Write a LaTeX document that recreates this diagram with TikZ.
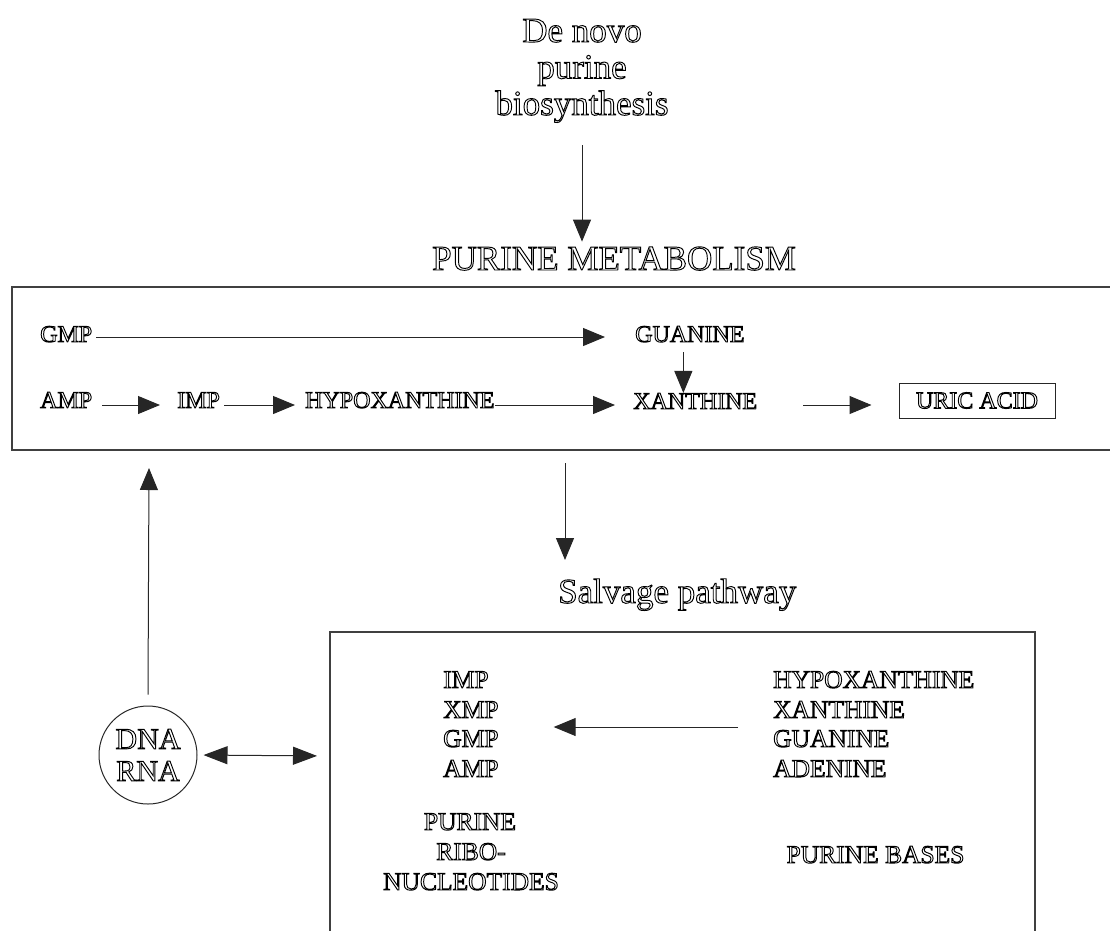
\documentclass[tikz,border=0pt]{standalone}
\usepackage{fontspec}
\setmainfont{Liberation Serif}
\usetikzlibrary{arrows.meta,calc}
\newcommand\hollowtext{\special{pdf:literal direct 1 Tr 0.95 w}}
\begin{document}
\begin{tikzpicture}[x=1pt,y=-1pt,
  lbl/.style={inner sep=0pt, font=\hollowtext\fontsize{24}{28}\selectfont},
  big/.style={inner sep=0pt, font=\hollowtext\fontsize{35}{36.5}\selectfont},
  mid/.style={inner sep=0pt, font=\hollowtext\fontsize{25.5}{30}\selectfont},
  conn/.style={line width=1pt, draw=black!85},
  arr/.style={conn, -{Triangle[length=22pt,width=18pt]}},
  darr/.style={conn, {Triangle[length=24pt,width=18pt]}-{Triangle[length=24pt,width=18pt]}},
  frame/.style={line width=1.3pt, draw=black!75}]
\useasboundingbox (0,0) rectangle (1110,930);

% De novo
\node[big, anchor=base] (denovo1) at (582,42) {De novo};
\node[big, anchor=base] (denovo2) at (582,78.5) {purine};
\node[big, anchor=base] (denovo3) at (582,115) {biosynthesis};
\node[big, anchor=base west] (title) at (432,270) {PURINE METABOLISM};
\draw[arr, shorten >=5pt] ($(denovo3.base)+(0,30)$) -- (denovo3.base |- title.north);

% top box
\draw[frame] (1112,287) -- (12,287) -- (12,450) -- (1112,450);
\coordinate (topS) at (565,450);
\coordinate (topW) at (149,450);

\node[lbl, anchor=base west] (gmp) at (40,342) {GMP};
\node[lbl, anchor=base west] (guanine) at (635,342) {GUANINE};
\node[lbl, anchor=base west] (amp) at (40,408) {AMP};
\node[lbl, anchor=base west] (imp) at (177,408) {IMP};
\node[lbl, anchor=base west] (hypo) at (305,408) {HYPOXANTHINE};
\node[lbl, anchor=base west] (xan) at (633,409) {XANTHINE};
\node[lbl, conn, draw, minimum width=156pt, minimum height=35pt] (uric) at (977,400.5) {URIC ACID};

\draw[arr] ($(gmp.base east)+(4,-5)$) -- ($(guanine.base west)+(-30,-5)$);
\draw[arr] ($(amp.base east)+(10,-3)$) -- ($(imp.base west)+(-17,-3)$);
\draw[arr] ($(imp.base east)+(4,-3)$) -- ($(hypo.base west)+(-10,-3)$);
\draw[arr] ($(hypo.base east)+(0,-3)$) -- ($(xan.base west)+(-18,-4)$);
\draw[arr] ($(xan.base east)+(46,-4)$) -- ($(uric.west)+(-27,4.5)$);
\coordinate (gtop) at ($(guanine.base)+(-6.5,10)$);
\draw[arr] (gtop) -- (gtop |- xan.north);

% salvage
\node[big, anchor=base west] (salv) at (558,603) {Salvage pathway};
\draw[arr] ($(topS)+(0,13)$) -- ($(topS)+(0,110)$);

\draw[frame] (330,932) -- (330,632) -- (1035,632) -- (1035,932);
\coordinate (lowW) at (330,756);

\node[conn, draw, circle, minimum size=98pt, inner sep=0pt, align=center,
      font=\hollowtext\fontsize{30}{32}\selectfont] (dna) at (148,755) {DNA\\RNA};
\draw[arr] ($(dna.north)+(0,-11)$) -- ($(topW)+(0,18)$);
\draw[darr, shorten >=13pt, shorten <=6pt] (dna.east) -- (lowW);

\node[mid, anchor=base west] (limp) at (443,688) {IMP};
\node[mid, anchor=base west] (lxmp) at (443,718) {XMP};
\node[mid, anchor=base west] (lgmp) at (443,747) {GMP};
\node[mid, anchor=base west] (lamp) at (443,777) {AMP};
\node[mid, anchor=base] (pr1) at (470,830) {PURINE};
\node[mid, anchor=base] (pr2) at (471,860) {RIBO-};
\node[mid, anchor=base] (pr3) at (471,890) {NUCLEOTIDES};

\node[mid, anchor=base west] (rhyp) at (773,688) {HYPOXANTHINE};
\node[mid, anchor=base west] (rxan) at (773,718) {XANTHINE};
\node[mid, anchor=base west] (rgua) at (773,747) {GUANINE};
\node[mid, anchor=base west] (rade) at (773,777) {ADENINE};
\node[mid, anchor=base] (pbases) at (875.5,863) {PURINE BASES};

\draw[arr] ($(rxan.base west)+(-35,9)$) -- ($(lxmp.base east)+(55,9)$);
\end{tikzpicture}
\end{document}
